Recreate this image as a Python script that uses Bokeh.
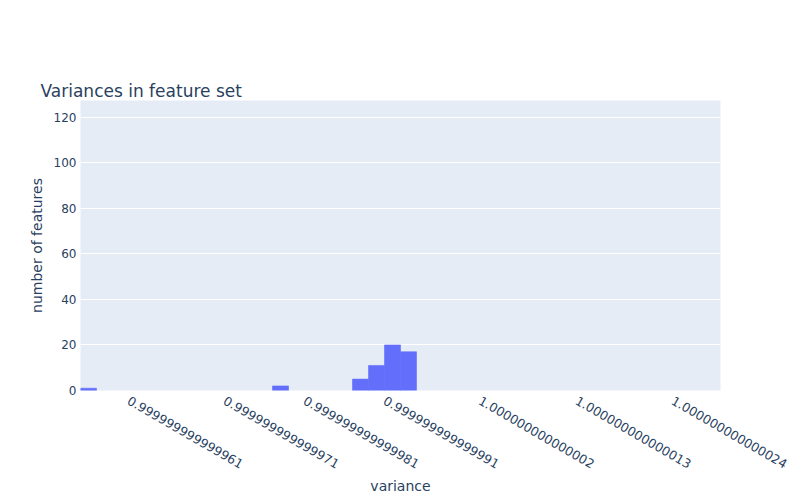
import math
from bokeh.plotting import figure
from bokeh.models import FixedTicker, Range1d, ColumnDataSource, Title
from bokeh.embed import file_html
from bokeh.resources import INLINE

# Histogram data (x in units of one bin width, measured from the first bin's left edge)
bin_start = [0, 12, 17, 18, 19, 20]
counts = [1, 2, 5, 11, 20, 17]
n_bins = 40

tick_positions = [3.0, 9.0, 14.0, 19.0, 24.95, 31.0, 37.0]
tick_labels = [
    "0.999999999999961",
    "0.999999999999971",
    "0.999999999999981",
    "0.999999999999991",
    "1.000000000000002",
    "1.000000000000013",
    "1.000000000000024",
]
y_ticks = [0, 20, 40, 60, 80, 100, 120]
y_max = 127.3
title_text = "Variances in feature set"

FONT = "DejaVu Sans"
TXT = "#2a3f5f"

src = ColumnDataSource(dict(
    left=bin_start,
    right=[b + 1 for b in bin_start],
    top=counts,
    bottom=[0] * len(counts),
))

p = figure(width=800, height=500, output_backend="svg", toolbar_location=None,
           x_range=Range1d(0, n_bins), y_range=Range1d(0, y_max),
           min_border_left=80, min_border_right=80, min_border_top=100,
           min_border_bottom=110)

p.quad(left="left", right="right", top="top", bottom="bottom", source=src,
       fill_color="#636efa", line_color="#636efa", line_width=0.6)

p.background_fill_color = "#e5ecf6"
p.border_fill_color = "white"
p.outline_line_color = None

p.xgrid.grid_line_color = None
p.ygrid.grid_line_color = "white"
p.ygrid.grid_line_width = 1

p.xaxis.ticker = FixedTicker(ticks=tick_positions)
p.xaxis.major_label_overrides = {t: l for t, l in zip(tick_positions, tick_labels)}
p.xaxis.major_label_orientation = -math.pi / 6
p.yaxis.ticker = FixedTicker(ticks=y_ticks)

for ax in (p.xaxis, p.yaxis):
    ax.axis_line_color = None
    ax.major_tick_line_color = None
    ax.minor_tick_line_color = None
    ax.major_tick_out = 0
    ax.major_label_text_font = FONT
    ax.major_label_text_font_size = "12px"
    ax.major_label_text_color = TXT
    ax.axis_label_text_font = FONT
    ax.axis_label_text_font_size = "14px"
    ax.axis_label_text_color = TXT
    ax.axis_label_text_font_style = "normal"

p.xaxis.major_label_text_font_size = "12.5px"
p.xaxis.axis_label = "variance"
p.yaxis.axis_label = "number of features"
p.xaxis.major_label_standoff = 9
p.yaxis.major_label_standoff = 4
p.xaxis.axis_label_standoff = 2
p.yaxis.axis_label_standoff = 6

# spacer between the frame and the title (pushes the title up)
spacer = Title(text=" ", text_font_size="1px", text_alpha=0, standoff=43)
p.add_layout(spacer, "above")

p.title.text = title_text
p.title.text_font = FONT
p.title.text_font_size = "17px"
p.title.text_color = TXT
p.title.text_font_style = "normal"
p.title.standoff = 0
p.title.offset = -40

open("out.html", "w").write(file_html(p, INLINE))
